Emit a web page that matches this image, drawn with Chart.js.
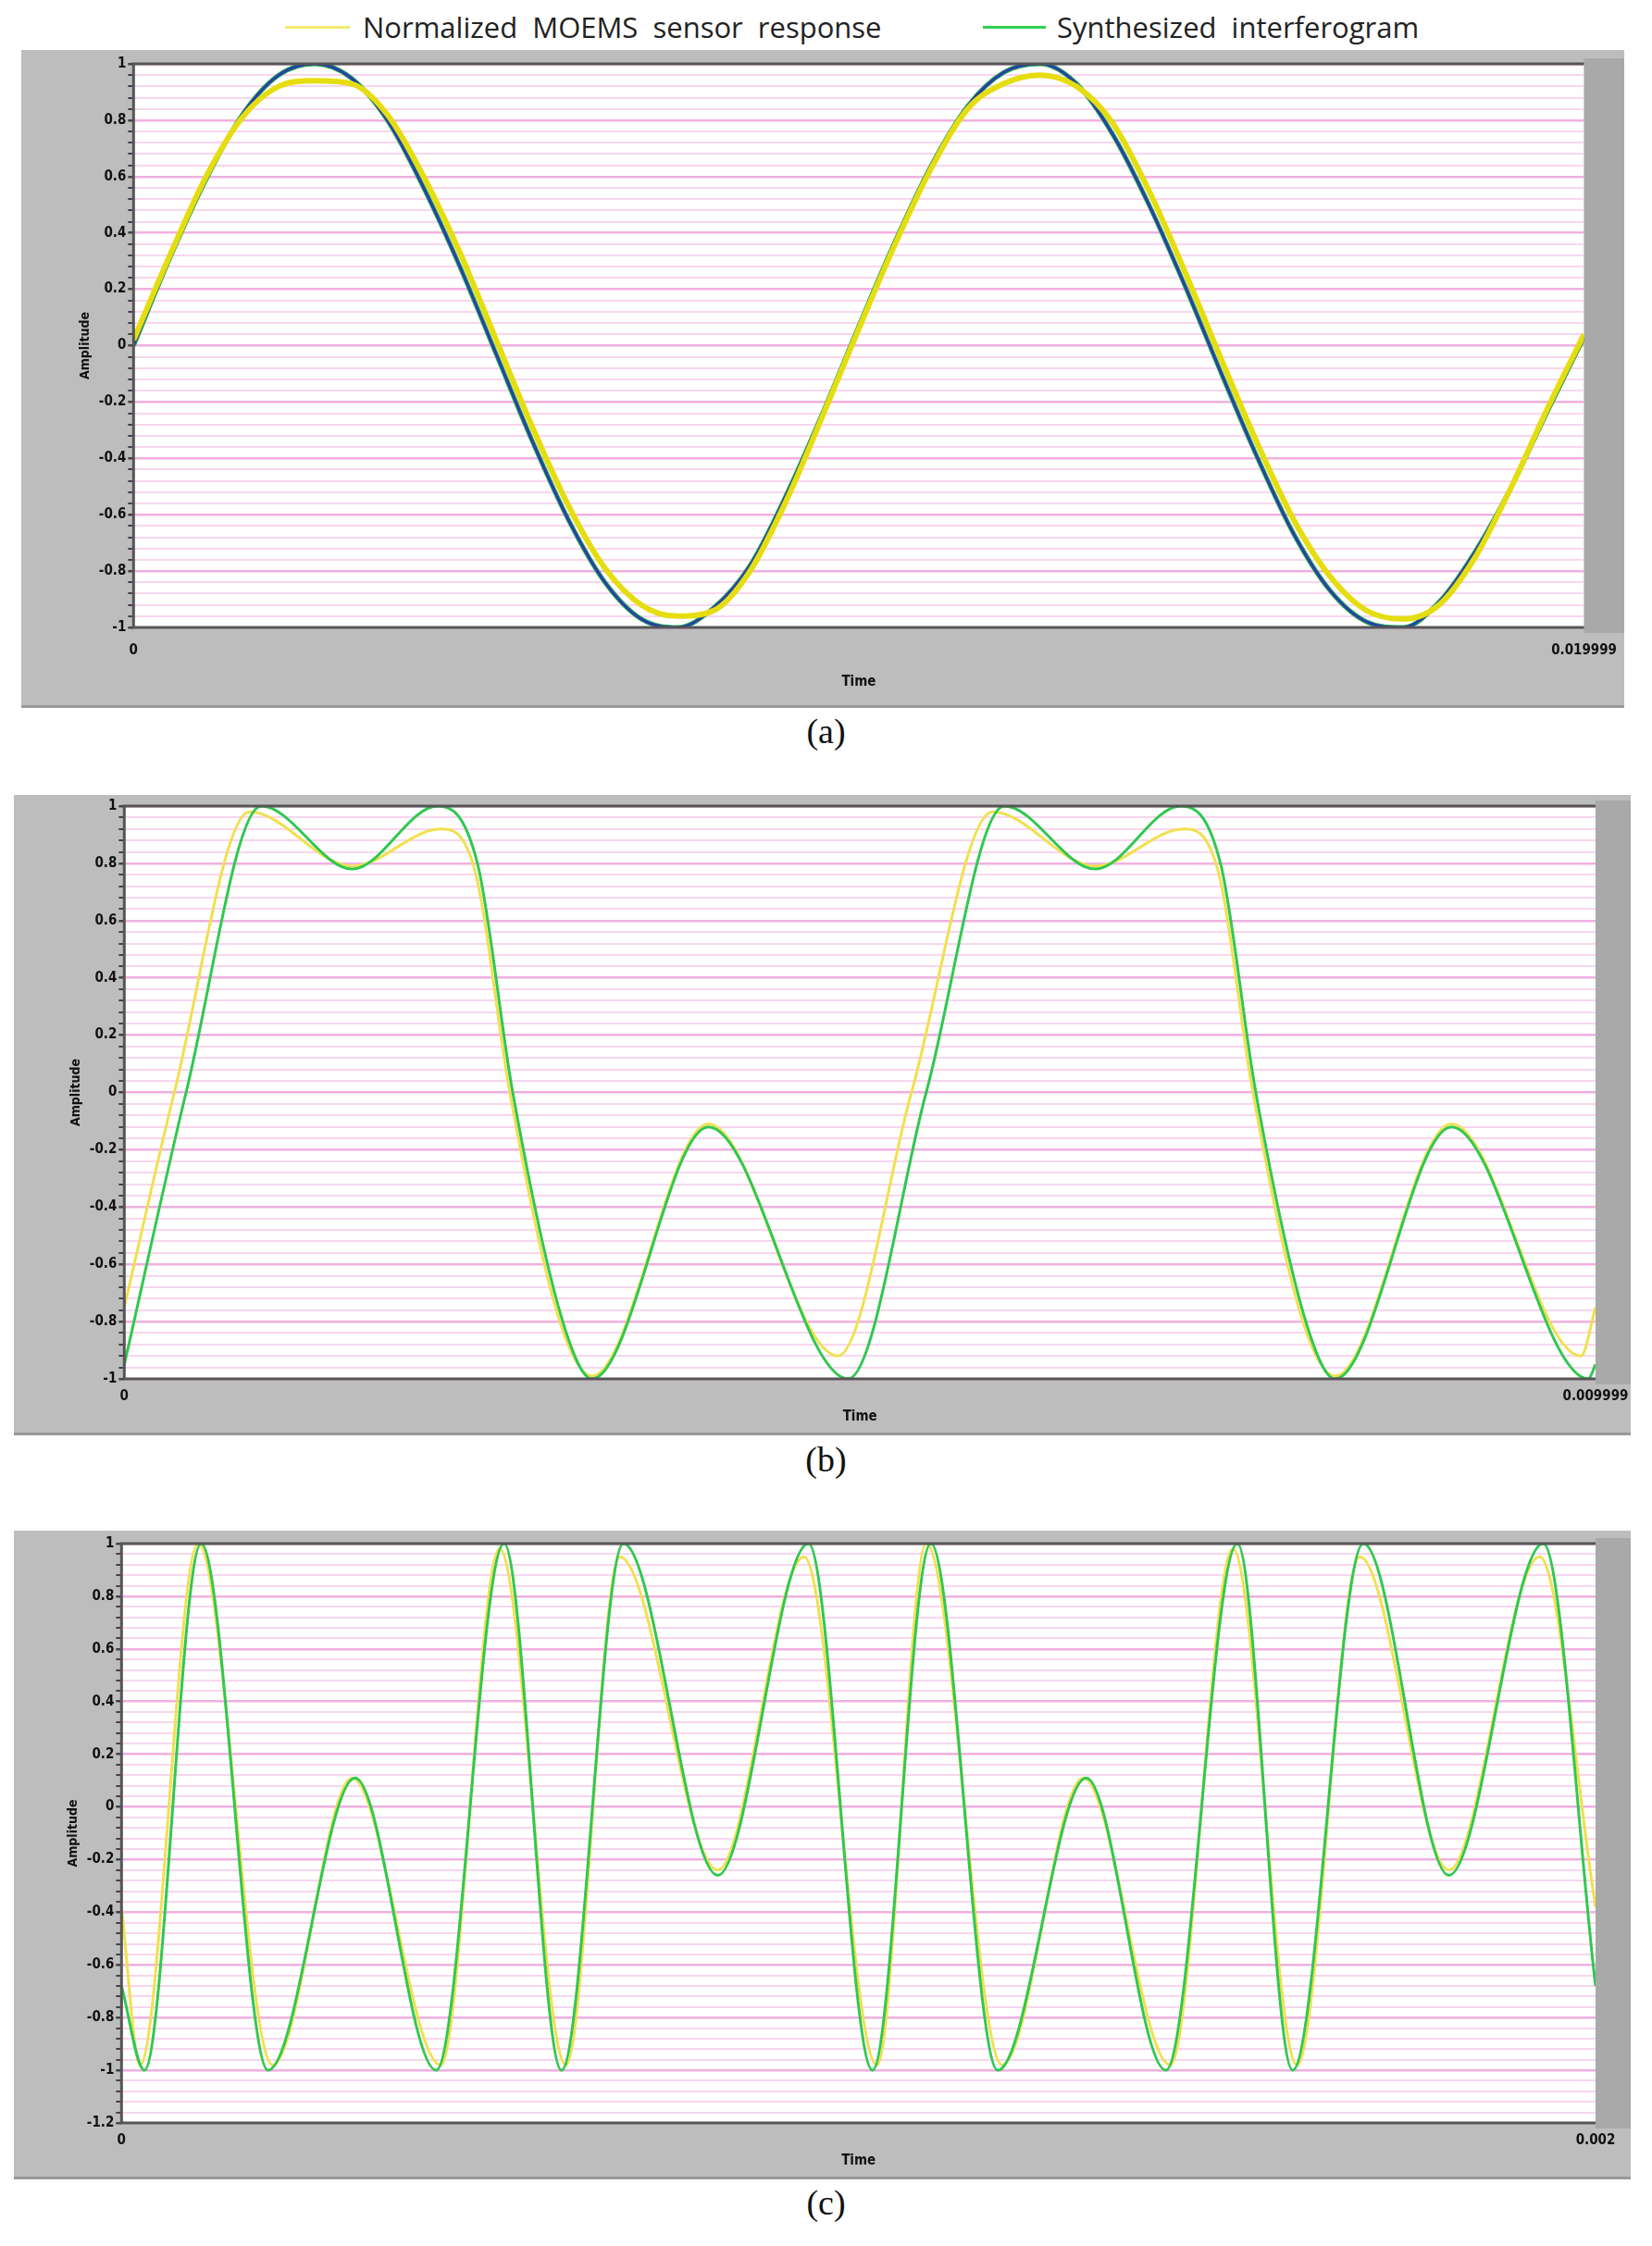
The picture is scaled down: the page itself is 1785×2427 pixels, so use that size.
<!DOCTYPE html>
<html><head><meta charset="utf-8">
<script src="https://cdn.jsdelivr.net/npm/chart.js@4.4.0/dist/chart.umd.min.js"></script>
<style>
body{margin:0;background:#fff;width:1785px;height:2427px;position:relative;font-family:"Liberation Serif",serif;overflow:hidden}
.frame{position:absolute;background:#bdbdbd;border-bottom:3px solid #999}
.frame canvas{position:absolute;left:0;top:0}
.cap{position:absolute;width:1785px;text-align:center;font-size:38px;color:#111}
.leg{position:absolute;top:8px;font-family:"Open Sans",sans-serif;font-size:31px;color:#222}
.ll{position:absolute;height:3px}
</style></head><body>
<div class="ll" style="left:308px;top:28px;width:70px;background:#f2ea70"></div>
<div class="leg" style="left:392px">Normalized&nbsp; MOEMS&nbsp; sensor&nbsp; response</div>
<div class="ll" style="left:530px;top:57px;width:158px;background:#666"></div>
<div class="ll" style="left:1062px;top:28px;width:68px;background:#30d050"></div>
<div class="leg" style="left:1142px">Synthesized&nbsp; interferogram</div>

<div class="frame" id="fa" style="left:23px;top:54px;width:1732px;height:708px"><canvas id="ca"></canvas></div>
<div class="cap" style="top:768px">(a)</div>
<div class="frame" id="fb" style="left:15px;top:859px;width:1747px;height:689px"><canvas id="cb"></canvas></div>
<div class="cap" style="top:1555px">(b)</div>
<div class="frame" id="fc" style="left:15px;top:1654px;width:1747px;height:698px"><canvas id="cc"></canvas></div>
<div class="cap" style="top:2358px">(c)</div>
<script>
// ---- data (a)
const aX=[0,.0005,.001,.0015,.002,.0025,.003,.0035,.004,.0045,.005,.0055,.006,.0065,.007,.0075,.008,.0085,.009,.0095,.01,.0105,.011,.0115,.012,.0125,.013,.0135,.014,.0145,.015,.0155,.016,.0165,.017,.0175,.018,.0185,.019,.0195,.019999];
const aBlue=[0,0.31,0.59,0.82,0.96,1.00,0.95,0.80,0.56,0.28,-0.03,-0.34,-0.62,-0.84,-0.97,-1.00,-0.93,-0.78,-0.53,-0.24,0.07,0.37,0.64,0.85,0.97,1.00,0.93,0.75,0.50,0.21,-0.10,-0.40,-0.67,-0.87,-0.98,-1.00,-0.91,-0.73,-0.50,-0.23,0.03];
const aYellow=[0.02,0.32,0.60,0.81,0.92,0.94,0.93,0.82,0.60,0.33,0.02,-0.29,-0.57,-0.79,-0.92,-0.96,-0.94,-0.80,-0.55,-0.25,0.06,0.36,0.63,0.84,0.93,0.96,0.92,0.79,0.55,0.26,-0.05,-0.35,-0.62,-0.82,-0.94,-0.97,-0.92,-0.75,-0.50,-0.22,0.04];
// ---- data (b)
const bGX=[0,.00042,.00093,.00155,.00213,.0024,.00264,.00298,.00318,.00397,.00492,.00545,.00598,.0066,.00718,.00745,.00769,.00803,.00823,.00902,.00995,.009999];
const bGY=[-0.95,0,1,0.78,1,0.8,0,-0.8,-1,-0.12,-1,0,1,0.78,1,0.8,0,-0.8,-1,-0.12,-1,-0.95];
const bYX=[0,.00034,.00085,.00155,.00215,.00238,.00262,.00296,.00318,.00397,.00485,.00535,.0059,.0066,.0072,.00743,.00767,.00801,.00823,.00902,.0099,.009999];
const bYY=[-0.75,0,0.98,0.79,0.92,0.78,0,-0.8,-0.99,-0.11,-0.92,0,0.98,0.79,0.92,0.78,0,-0.8,-0.99,-0.11,-0.92,-0.75];
// ---- data (c)
const cGX=[0,.000031,.000108,.000199,.000317,.000427,.000519,.000597,.000681,.000809,.000932,.001019,.001098,.001189,.001309,.001417,.001514,.001589,.001685,.001801,.001929,.002];
const cGY=[-0.68,-1,1,-1,0.11,-1,1,-1,1,-0.26,1,-1,1,-1,0.11,-1,1,-1,1,-0.26,1,-0.68];
const cYX=[0,.000025,.000104,.000205,.000313,.000433,.000513,.000603,.000676,.000809,.000926,.001025,.001092,.001195,.001305,.001423,.001508,.001595,.00168,.001801,.001924,.002];
const cYY=[-0.38,-0.98,1,-0.98,0.11,-0.98,0.98,-0.98,0.95,-0.24,0.95,-0.98,1,-0.98,0.11,-0.98,0.98,-0.98,0.95,-0.24,0.95,-0.38];

function pts(xs,ys){return xs.map((x,i)=>({x:x,y:ys[i]}));}
const bg={id:'bg',beforeDraw(c){const a=c.chartArea,g=c.ctx;g.save();g.fillStyle='#fff';g.fillRect(a.left,a.top,a.right-a.left,a.bottom-a.top);
 g.fillStyle='#a9a9a9';g.fillRect(a.right,a.top-6,c.width-a.right,a.bottom-a.top+12);g.restore();},
 afterDraw(c){const a=c.chartArea,g=c.ctx;g.save();g.strokeStyle='#555';g.lineWidth=3;g.beginPath();g.moveTo(a.left-2,a.top);g.lineTo(a.right,a.top);g.stroke();
 g.beginPath();g.moveTo(a.left,a.top);g.lineTo(a.left,a.bottom);g.lineTo(a.right,a.bottom);g.stroke();g.restore();}};
const font={family:'"DejaVu Sans Condensed","DejaVu Sans",sans-serif',size:15,weight:'bold'};
function make(id,w,h,ds,xmax,xlabel,ymin,pad,tp){
 const cv=document.getElementById(id);cv.width=w;cv.height=h;
 new Chart(cv,{type:'line',data:{datasets:ds},plugins:[bg],
 options:{responsive:false,devicePixelRatio:1,animation:false,layout:{padding:pad},
  plugins:{legend:{display:false},tooltip:{enabled:false}},
  elements:{point:{radius:0},line:{cubicInterpolationMode:'monotone'}},
  scales:{x:{type:'linear',min:0,max:xmax,grid:{display:false},border:{display:false},
    afterBuildTicks(s){s.ticks=[{value:0},{value:xmax}];},
    ticks:{color:'#111',font:font,maxRotation:0,padding:tp,callback:v=>v===0?'0':xlabel},
    title:{display:true,text:'Time',color:'#111',font:font,padding:{top:tp,bottom:0}}},
   y:{min:ymin,max:1,border:{display:false},
    afterBuildTicks(s){const t=[];for(let k=Math.round(ymin*100);k<=100;k+=4)t.push({value:k/100});s.ticks=t;},
    grid:{color:c=>{const k=Math.round(c.tick.value*100);return k%20===0?'#f0b0e0':'#f8d6ef';},lineWidth:c=>Math.round(c.tick.value*100)%20===0?2.5:2,drawTicks:true,tickLength:6,tickColor:'#444'},
    ticks:{color:'#111',font:font,autoSkip:false,padding:2,callback:v=>{const k=Math.round(v*100);return k%20===0?String(k/100):'';}},
    title:{display:true,text:'Amplitude',color:'#111',font:{...font,size:14},padding:{bottom:4}}}}}});
}
make('ca',1732,708,[
 {data:pts(aX,aYellow),borderColor:'#e6dd10',borderWidth:6},
 {data:pts(aX,aBlue),borderColor:'#2a3fa8',borderWidth:3},
 {data:pts(aX,aBlue),borderColor:'#22b050',borderWidth:5}],0.019999,'0.019999',-1,{left:57,right:39,top:15,bottom:16},8);
make('cb',1747,689,[
 {data:pts(bGX,bGY),borderColor:'#30c850',borderWidth:3},
 {data:pts(bYX,bYY),borderColor:'#f0e050',borderWidth:3}],0.009999,'0.009999',-1,{left:55,right:38,top:12,bottom:8},2);
make('cc',1747,698,[
 {data:pts(cGX,cGY),borderColor:'#30c850',borderWidth:3},
 {data:pts(cYX,cYY),borderColor:'#f0e050',borderWidth:3}],0.002,'0.002',-1.2,{left:52,right:38,top:14,bottom:8},2);
</script></body></html>
